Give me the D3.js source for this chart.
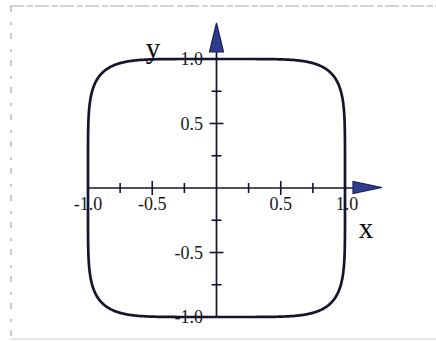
<!DOCTYPE html>
<html><head><meta charset="utf-8">
<script src="https://cdn.jsdelivr.net/npm/d3@7"></script>
<style>body{margin:0;background:#fff}svg{display:block}</style>
</head><body>
<script>
// data
const exponent = 6;               // curve |x|^n + |y|^n = 1
const majorTicks = [-1, -0.5, 0.5, 1];
const minorTicks = [-0.75, -0.25, 0.25, 0.75];
const xTickLabels = ["-1.0", "-0.5", "0.5", "1.0"];
const yTickLabels = ["-1.0", "-0.5", "0.5", "1.0"];
const axisLabels = ["x", "y"];

const W = 436, H = 342;
const svg = d3.select("body").append("svg").attr("width", W).attr("height", H);

const x = d3.scaleLinear().domain([-1, 1]).range([88, 345]);
const y = d3.scaleLinear().domain([-1, 1]).range([317, 59]);
const ink = "#14142c";

// scan frame
const frame = svg.append("g").attr("stroke", "#a8a8b0").attr("stroke-width", 1.2).attr("fill", "none");
frame.append("line").attr("x1", 10).attr("x2", 436).attr("y1", 6).attr("y2", 6).attr("stroke-dasharray", "14 3 6 2");
frame.append("line").attr("x1", 11).attr("x2", 11).attr("y1", 6).attr("y2", 338).attr("stroke-dasharray", "6 10 3 8");
frame.append("line").attr("x1", 10).attr("x2", 436).attr("y1", 339).attr("y2", 339).attr("stroke", "#d0d0d8");

// curve
const N = 720;
const pts = d3.range(N + 1).map(i => {
  const t = i / N * 2 * Math.PI;
  const c = Math.cos(t), s = Math.sin(t);
  return [Math.sign(c) * Math.pow(Math.abs(c), 2 / exponent),
          Math.sign(s) * Math.pow(Math.abs(s), 2 / exponent)];
});
svg.append("path")
  .attr("d", d3.line().x(d => x(d[0])).y(d => y(d[1]))(pts))
  .attr("fill", "none").attr("stroke", ink).attr("stroke-width", 2.7)
  .attr("stroke-linejoin", "round");

// axes lines
svg.append("line").attr("x1", x(-1)).attr("x2", 356).attr("y1", y(0)).attr("y2", y(0))
  .attr("stroke", ink).attr("stroke-width", 1.7);
svg.append("line").attr("x1", x(0)).attr("x2", x(0)).attr("y1", y(-1)).attr("y2", 50)
  .attr("stroke", ink).attr("stroke-width", 1.7);

// ticks
const tk = svg.append("g").attr("stroke", ink).attr("stroke-width", 1.6);
majorTicks.concat(minorTicks).forEach(v => {
  const L = majorTicks.includes(v) ? 7 : 5;
  if (Math.abs(v) < 1) {
    tk.append("line").attr("x1", x(v)).attr("x2", x(v)).attr("y1", y(0) - L).attr("y2", y(0) + L);
    tk.append("line").attr("y1", y(v)).attr("y2", y(v)).attr("x1", x(0) - L).attr("x2", x(0) + L);
  }
});

// arrows
const arrowFill = "#2e3c8c";
svg.append("path")
  .attr("d", `M${x(0)},23 L${x(0) + 7},52 L${x(0) - 7},52 Z`)
  .attr("fill", arrowFill).attr("stroke", "#1a2055").attr("stroke-width", 1.2);
svg.append("path")
  .attr("d", `M382,${y(0) - 0.5} L353,${y(0) - 6.5} L353,${y(0) + 5.5} Z`)
  .attr("fill", arrowFill).attr("stroke", "#1a2055").attr("stroke-width", 1.2);

// tick labels
const font = "'Liberation Serif', 'DejaVu Serif', serif";
svg.append("g").selectAll("text").data(majorTicks).join("text")
  .attr("x", d => x(d) + (d === 1 ? 2 : 0)).attr("y", 210)
  .attr("text-anchor", "middle").attr("font-family", font).attr("font-size", 18)
  .attr("fill", "#181818").text((d, i) => xTickLabels[i]);
svg.append("g").selectAll("text").data(majorTicks).join("text")
  .attr("x", 203).attr("y", d => y(d) + 6)
  .attr("text-anchor", "end").attr("font-family", font).attr("font-size", 18)
  .attr("fill", "#181818").text((d, i) => yTickLabels[i]);

// axis labels
svg.append("text").attr("x", 366).attr("y", 238).attr("text-anchor", "middle")
  .attr("font-family", font).attr("font-size", 29).attr("fill", "#0e0e0e").text(axisLabels[0]);
svg.append("text").attr("x", 153).attr("y", 58).attr("text-anchor", "middle")
  .attr("font-family", font).attr("font-size", 29).attr("fill", "#0e0e0e").text(axisLabels[1]);
</script>
</body></html>
